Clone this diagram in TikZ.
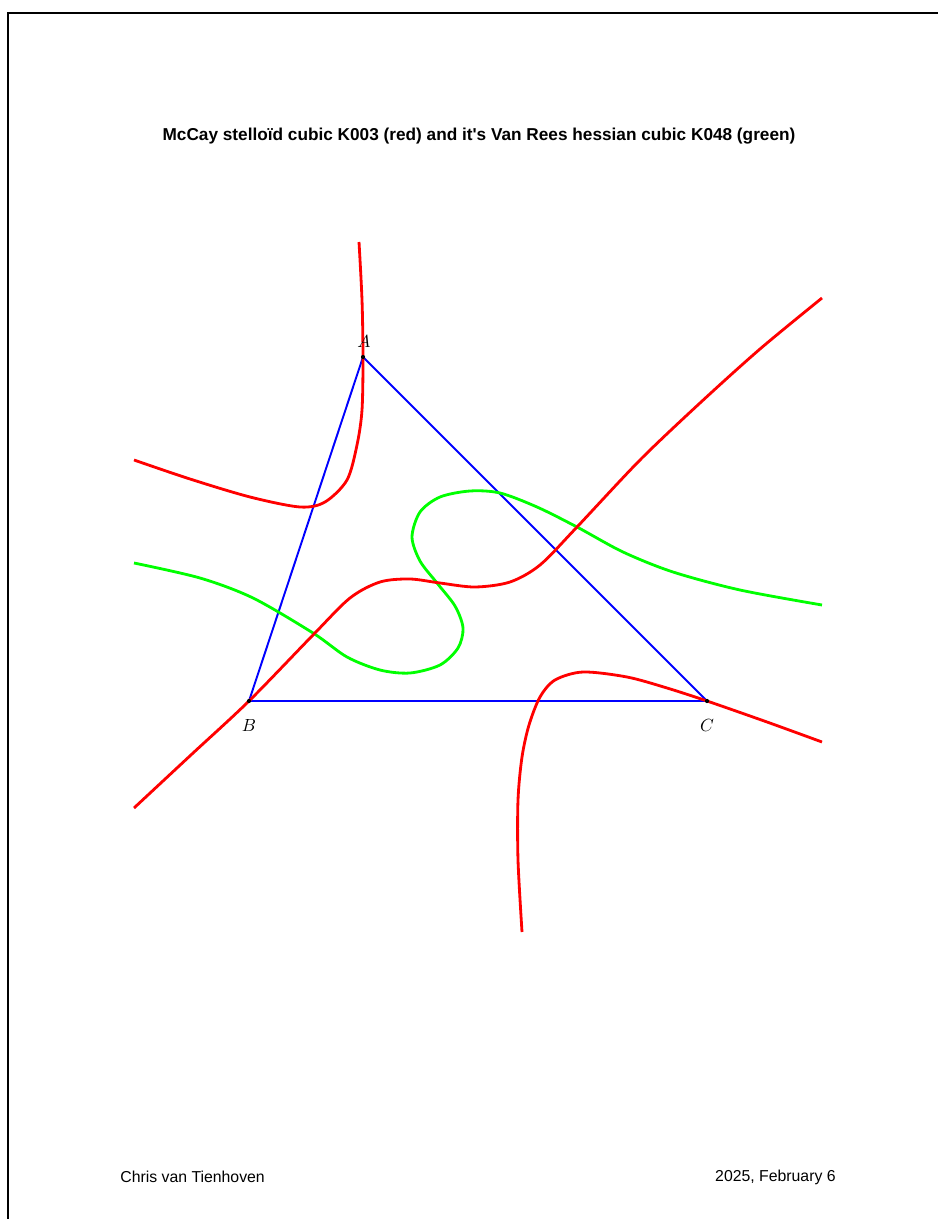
\documentclass[tikz,border=0pt]{standalone}
\usepackage{fontspec}
\setsansfont{Liberation Sans}
\usepackage{amsmath}

\begin{document}
\begin{tikzpicture}[
  x=0.02cm, y=-0.02cm,
  side/.style={blue,line width=1.1pt},  mccay/.style={red,line width=1.6pt,line join=round},  hessian/.style={green,line width=1.6pt,line join=round},  vdot/.style={circle,fill=black,inner sep=0pt,minimum size=2.4pt},  vlabel/.style={inner sep=0pt,font=\fontsize{10}{12}\selectfont}
]
  \useasboundingbox (0,0) rectangle (938,1219);
  \draw[line width=1.2pt] (8,1219) -- (8,13) -- (938,13);
  % title
  \node[font=\sffamily\bfseries\fontsize{9.8}{12}\selectfont] (title) at (479,136)
    {McCay stelloïd cubic K003 (red) and it\textquotesingle s Van Rees hessian cubic K048 (green)};
  % triangle
  \coordinate (A) at (363,357);
  \coordinate (B) at (249,701);
  \coordinate (C) at (707,701);
  \draw[side] (A) -- (B) -- (C) -- cycle;
  % hessian K048
  \draw[hessian] plot[smooth] coordinates {(134,563) (200,578) (253,598) (313,633)
    (347,657) (380,670) (410,673) (440,665) (458,648) (463,628) (455,606) (437,583)
    (420,561) (412,537) (420,512) (440,497) (470,491) (500,493) (537,507) (577,527)
    (623,552) (673,572) (740,590) (822,605)};
  % McCay K003
  \draw[mccay] plot[smooth] coordinates {(359,242) (362,300) (363,357) (362,410)
    (357,445) (347,480) (325,502) (300,507) (250,497) (190,479) (134,460)};
  \draw[mccay] plot[smooth] coordinates {(134,808) (192,754) (249,701) (313,635)
    (350,598) (380,582) (410,579) (440,583) (475,587) (510,582) (540,565) (577,527)
    (640,460) (700,403) (760,349) (822,298)};
  \draw[mccay] plot[smooth] coordinates {(522,932) (518,860) (518,800) (522,757)
    (529,725) (540,697) (555,680) (583,672) (627,677) (667,688) (707,701) (767,722)
    (822,742)};
  % vertices
  \node[vdot] (dA) at (A) {};
  \node[vdot] (dB) at (B) {};
  \node[vdot] (dC) at (C) {};
  \node[vlabel] (lA) at (364,341) {$A$};
  \node[vlabel] (lB) at (249,725) {$B$};
  \node[vlabel] (lC) at (707,725) {$C$};
  % footer
  \node[font=\sffamily\fontsize{9}{11}\selectfont,anchor=west,inner sep=0pt] (author) at (120,1177) {Chris van Tienhoven};
  \node[font=\sffamily\fontsize{9}{11}\selectfont,anchor=east,inner sep=0pt] (date) at (836,1177) {2025, February 6};
\end{tikzpicture}
\end{document}
